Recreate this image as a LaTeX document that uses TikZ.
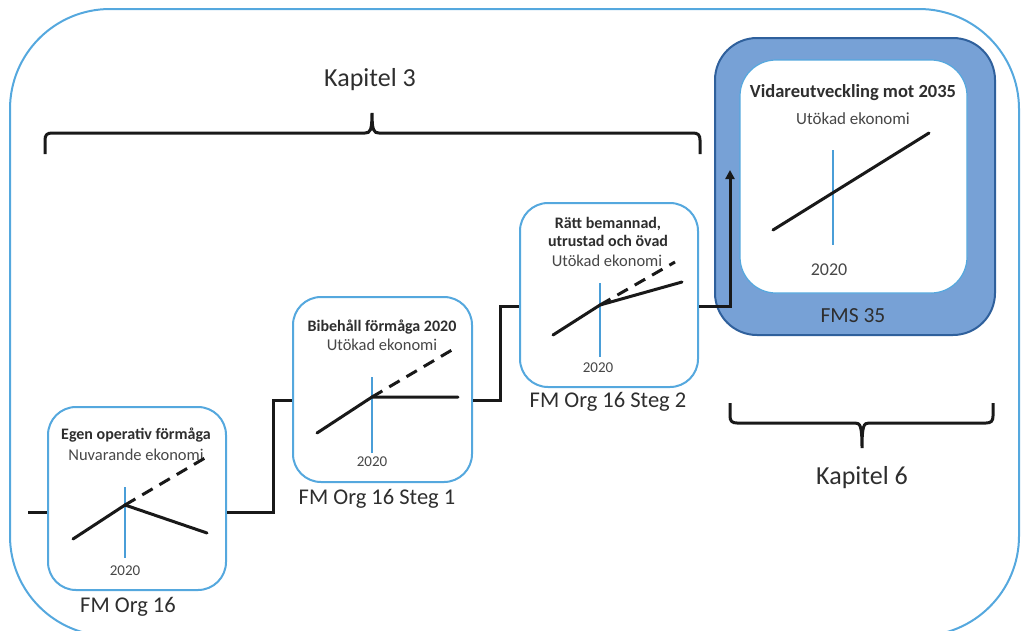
\documentclass[tikz,border=0pt]{standalone}
\usepackage{fontspec}
\setmainfont{Carlito}
\usetikzlibrary{arrows.meta}
\definecolor{frameblue}{HTML}{55A8DE}
\definecolor{lineblue}{HTML}{4A9ED8}
\definecolor{fmsfill}{HTML}{77A1D6}
\definecolor{fmsdraw}{HTML}{2F609C}
\definecolor{txt}{HTML}{2E2E2E}
\definecolor{subtxt}{HTML}{474747}
\tikzset{
  stagebox/.style={draw=frameblue, line width=2pt, rounded corners=28pt, fill=white, inner sep=0pt},
  conn/.style={black!90, line width=3pt},
  curve/.style={black!90, line width=3pt, line cap=round},
  dashcurve/.style={black!90, line width=3pt, dash pattern=on 12pt off 8pt},
  yearline/.style={lineblue, line width=1.6pt},
  btitle/.style={font=\fontsize{16}{18.5}\selectfont\bfseries, text=txt, align=center},
  bsub/.style={font=\fontsize{16.5}{19}\selectfont, text=subtxt},
  year/.style={font=\fontsize{15}{17}\selectfont, text=subtxt},
  caption/.style={font=\fontsize{22.5}{26}\selectfont, text=txt},
  chapter/.style={font=\fontsize{26}{30}\selectfont, text=txt},
  brace/.style={black!90, line width=3pt},
}
\begin{document}
\begin{tikzpicture}[x=1pt,y=-1pt]
\useasboundingbox (0,0) rectangle (1022,630);
% outer frame
\draw[frameblue, line width=2pt, rounded corners=100pt] (10,9) rectangle (1019,636);

% stage boxes
\node[stagebox, minimum width=178pt, minimum height=183pt] (box1) at (137,498.5) {};
\node[stagebox, minimum width=179pt, minimum height=185pt] (box2) at (382.5,389.5) {};
\node[stagebox, minimum width=178pt, minimum height=184pt] (box3) at (609,295) {};
\node[draw=fmsdraw, fill=fmsfill, line width=2pt, rounded corners=42pt, minimum width=280pt, minimum height=297pt, inner sep=0pt] (box4) at (855,186.5) {};
\node[draw=frameblue, fill=white, line width=1.2pt, rounded corners=36pt, minimum width=227pt, minimum height=233pt, inner sep=0pt] (box4i) at (853.5,176.5) {};

% connectors
\coordinate (s0) at (28,512);
\coordinate (k1) at (273,400);
\coordinate (k2) at (500,306);
\coordinate (k3) at (730,170);
\draw[conn] (s0) -- (s0 -| box1.west);
\draw[conn] (box1.east |- s0) -| (k1) -- (k1 -| box2.west);
\draw[conn] (box2.east |- k1) -| (k2) -- (k2 -| box3.west);
\draw[conn, -{Triangle[length=9pt,width=9pt]}] (box3.east |- k2) -| (k3);

% box 1 content
\node[btitle] (t1) at (136,435) {Egen operativ förmåga};
\node[bsub] (u1) at (136,455) {Nuvarande ekonomi};
\draw[yearline] (125,487) -- (125,558);
\draw[curve] (73,539) -- (125,505) -- (207,533);
\draw[dashcurve] (125,505) -- (210,455);
\node[year] (y1) at (125,571) {2020};
\node[caption] (c1) at (128,607) {FM Org 16};

% box 2 content
\node[btitle] (t2) at (382,327) {Bibehåll förmåga 2020};
\node[bsub] (u2) at (382,345) {Utökad ekonomi};
\draw[yearline] (372,377) -- (372,453);
\draw[curve] (317,433) -- (372,397) -- (458,397);
\draw[dashcurve] (372,397) -- (457,347);
\node[year] (y2) at (372,462) {2020};
\node[caption] (c2) at (377,499) {FM Org 16 Steg 1};

% box 3 content
\node[btitle] (t3) at (608,232) {Rätt bemannad,\\utrustad och övad};
\node[bsub] (u3) at (607,261) {Utökad ekonomi};
\draw[yearline] (600,283) -- (600,357);
\draw[curve] (553,335) -- (600,305) -- (682,282);
\draw[dashcurve] (600,305) -- (675,262);
\node[year] (y3) at (598,368) {2020};
\node[caption] (c3) at (608,402) {FM Org 16 Steg 2};

% box 4 content
\node[btitle, font=\fontsize{18.5}{22}\selectfont\bfseries] (t4) at (853,93) {Vidareutveckling mot 2035};
\node[bsub, font=\fontsize{17}{20}\selectfont] (u4) at (853,119) {Utökad ekonomi};
\draw[yearline] (833,150) -- (833,245);
\draw[curve] (773,230) -- (929,133);
\node[year, font=\fontsize{18}{20}\selectfont] (y4) at (829,270) {2020};
\node[caption, font=\fontsize{21.5}{24}\selectfont] (c4) at (853,316) {FMS 35};

% brace Kapitel 3
\draw[brace] (45,154) -- (45,140) .. controls (45,135) and (47,133) .. (52,133) -- (365,133)
  .. controls (370,133) and (372,131) .. (372,113) .. controls (372,131) and (374,133) .. (379,133)
  -- (693,133) .. controls (698,133) and (700,135) .. (700,140) -- (700,154);
\node[chapter] (k3lab) at (370,80) {Kapitel 3};

% brace Kapitel 6
\draw[brace] (730,403) -- (730,416) .. controls (730,421) and (732,423) .. (737,423) -- (855,423)
  .. controls (860,423) and (862,425) .. (862,448) .. controls (862,425) and (864,423) .. (869,423)
  -- (986,423) .. controls (991,423) and (993,421) .. (993,416) -- (993,403);
\node[chapter] (k6lab) at (862,478) {Kapitel 6};
\end{tikzpicture}
\end{document}
